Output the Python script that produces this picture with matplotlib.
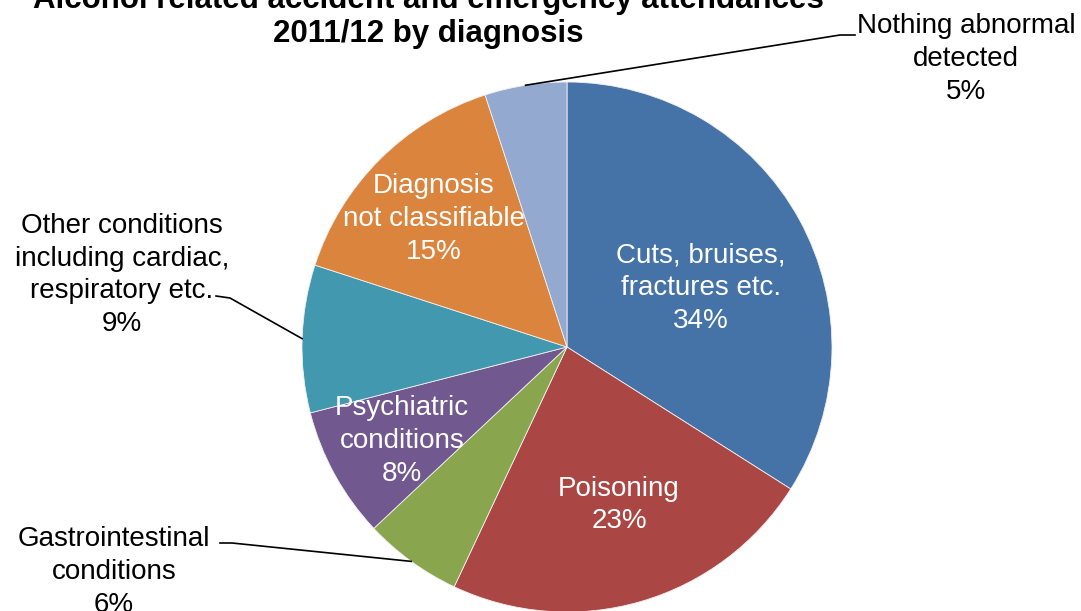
import numpy as np
import matplotlib.pyplot as plt

plt.rcParams['font.family'] = ['Liberation Sans', 'DejaVu Sans']

title = "Alcohol related accident and emergency attendances\n2011/12 by diagnosis"
categories = ["Cuts, bruises,\nfractures etc.", "Poisoning", "Gastrointestinal\nconditions",
              "Psychiatric\nconditions", "Other conditions\nincluding cardiac,\nrespiratory etc.",
              "Diagnosis\nnot classifiable", "Nothing abnormal\ndetected"]
shares = [34, 23, 6, 8, 9, 15, 5]
colors = ["#4572A7", "#AA4643", "#89A54E", "#71588F", "#4198AF", "#DB843D", "#93A9CF"]

W, H = 1081, 611
fig = plt.figure(figsize=(W / 100, H / 100), dpi=100)
ax = fig.add_axes([0, 0, 1, 1])

cx, cy, r = 567, H - 347, 265
wedges, _ = ax.pie(shares, colors=colors, startangle=90, counterclock=False,
                   center=(cx, cy), radius=r, frame=True,
                   wedgeprops=dict(edgecolor='#f0f0f0', linewidth=0.6))
ax.set_xlim(0, W)
ax.set_ylim(0, H)
ax.axis('off')

# inside labels (pixel positions of label centres, y from top)
inside = {0: (701, 288), 1: (619, 505), 3: (402, 441), 5: (434, 219)}
# outside labels: text centre, elbow start, elbow end
outside = {2: ((114, 572), (220, 543), (232, 543)),
           4: ((122, 275), (216, 296), (230, 298)),
           6: ((966, 59), (855, 35), (840, 35))}

for i, (lab, val) in enumerate(zip(categories, shares)):
    txt = f"{lab}\n{val}%"
    if i in inside:
        x, y = inside[i]
        ax.text(x, H - y, txt, color='white', fontsize=20, ha='center', va='center',
                linespacing=1.33)
    else:
        (tx, ty), (ex, ey), (kx, ky) = outside[i]
        ax.text(tx, H - ty, txt, color='black', fontsize=20, ha='center', va='center',
                linespacing=1.33)
        w = wedges[i]
        mid = np.deg2rad((w.theta1 + w.theta2) / 2)
        px, py = cx + r * np.cos(mid), cy + r * np.sin(mid)
        ax.plot([ex, kx, px], [H - ey, H - ky, py], color='black', lw=1.2, clip_on=False)

ax.text(428, H - 17, title, fontsize=22.5, fontweight='bold', ha='center', va='center',
        linespacing=1.2)

fig.savefig("out.png", dpi=100)
